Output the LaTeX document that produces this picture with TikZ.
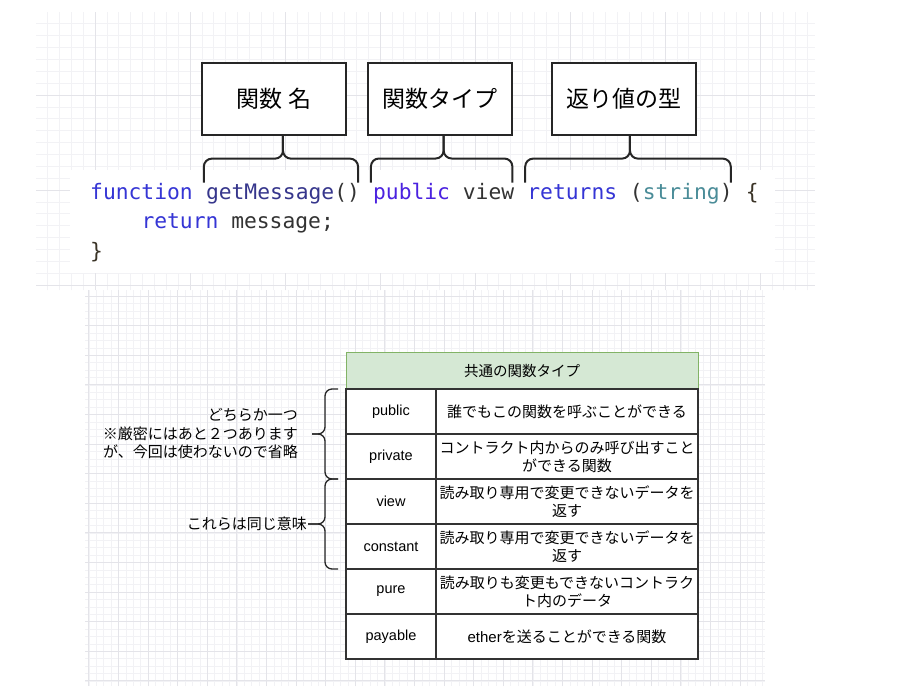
\documentclass[tikz,border=0pt]{standalone}
\usepackage{fontspec}
\setmainfont{Liberation Sans}
\newfontfamily\jp{Noto Sans CJK JP}
\newfontfamily\lat{Liberation Sans}
\newfontfamily\codefont{DejaVu Sans Mono}
\usetikzlibrary{positioning}

\definecolor{kwblue}{HTML}{3535D5}
\definecolor{fnindigo}{HTML}{36368C}
\definecolor{modpurple}{HTML}{4B22E0}
\definecolor{codegray}{HTML}{333333}
\definecolor{typeteal}{HTML}{4A8C98}
\definecolor{bracedark}{HTML}{3A3326}
\definecolor{hdrfill}{HTML}{D5E8D4}
\definecolor{hdrline}{HTML}{82B366}
\definecolor{cellline}{HTML}{333333}
\definecolor{gridminor}{HTML}{F2F2F5}
\definecolor{gridmajor}{HTML}{E4E4E9}

\begin{document}
\begin{tikzpicture} [
        x=1pt, y=-1pt,
        namebox/.style={rectangle, draw=black!85, line width=2pt, fill=white, minimum width=144pt, minimum height=72pt, font=\jp\fontsize{23}{28}\selectfont},
        code/.style={anchor=base west, inner sep=0pt, font=\codefont\fontsize{21.3}{26}\selectfont},
        brc/.style={draw=black!85, line width=2pt, rounded corners=8pt},
        sidebrc/.style={draw=black!85, line width=1.3pt, rounded corners=7pt},
        hdr/.style={rectangle, draw=hdrline, fill=hdrfill, line width=1pt, minimum width=352pt, minimum height=37pt, outer sep=0pt, font=\jp\fontsize{14.5}{17}\selectfont},
        keycell/.style={rectangle, draw=cellline, fill=white, line width=1.2pt, minimum width=90pt, minimum height=45pt, outer sep=0pt, font=\lat\fontsize{14.5}{17}\selectfont},
        valcell/.style={rectangle, draw=cellline, fill=white, line width=1.2pt, minimum width=262pt, minimum height=45pt, outer sep=0pt, align=center, font=\jp\fontsize{15}{18}\selectfont},
        note/.style={align=right, inner ysep=0pt, font=\jp\fontsize{15}{18.5}\selectfont}
    ]
        % Background and grids
        \fill[white] (0,0) rectangle (901,686);
        \useasboundingbox (0,0) rectangle (901,686);
        \draw[gridminor, line width=0.6pt, step=11.875pt] (36,12) grid (815,290);
        \draw[gridmajor, line width=0.8pt, step=95pt] (36,12) grid (815,290);
        \draw[gridminor, line width=0.6pt, step=7.4pt] (85,290) grid (765,686);
        \draw[gridmajor, line width=0.8pt, step=29.6pt] (85,290) grid (765,686);
        \fill[white] (70,170) rectangle (775,273);

        % Label boxes
        \node[namebox] (b1) at (274,99) {関数 名};
        \node[namebox, right=20pt of b1] (b2) {関数タイプ};
        \node[namebox, right=38pt of b2] (b3) {返り値の型};

        % Code
        \node[code] (kwfn) at (90,199) {\textcolor{kwblue}{function}};
        \node[code] (fname) at ([xshift=12.82pt]kwfn.base east) {\textcolor{fnindigo}{getMessage}\textcolor{codegray}{()}};
        \node[code] (ftype) at ([xshift=12.82pt]fname.base east) {\textcolor{modpurple}{public} \textcolor{codegray}{view}};
        \node[code] (fret) at ([xshift=12.82pt]ftype.base east) {\textcolor{kwblue}{returns} \textcolor{codegray}{(}\textcolor{typeteal}{string}\textcolor{codegray}{)}};
        \node[code] (fopen) at ([xshift=12.82pt]fret.base east) {\textcolor{bracedark}{\{}};
        \node[code] (retline) at ([xshift=51.3pt, yshift=-29.5pt]kwfn.base west) {\textcolor{kwblue}{return} \textcolor{codegray}{message;}};
        \node[code] (fclose) at ([yshift=-59pt]kwfn.base west) {\textcolor{bracedark}{\}}};

        % Braces
        \draw[brc] ([xshift=-2pt]fname.north west) |- ([yshift=24pt]fname.north) -- (fname.north |- b1.south);
        \draw[brc] ([xshift=-2pt]fname.north east) |- ([yshift=24pt]fname.north) -- (fname.north |- b1.south);
        \draw[brc] ([xshift=-2pt]ftype.north west) |- ([yshift=24pt]ftype.north) -- (ftype.north |- b2.south);
        \draw[brc] ([xshift=-2pt]ftype.north east) |- ([yshift=24pt]ftype.north) -- (ftype.north |- b2.south);
        \draw[brc] ([xshift=-2pt]fret.north west) |- ([yshift=24pt]fret.north) -- (fret.north |- b3.south);
        \draw[brc] ([xshift=-2pt]fret.north east) |- ([yshift=24pt]fret.north) -- (fret.north |- b3.south);

        % Table
        \node[hdr] (hdr) at (522,370.5) {共通の関数タイプ};
        \node[keycell, below right=0pt of hdr.south west] (k1) {public};
        \node[valcell, right=0pt of k1] (v1) {誰でもこの関数を呼ぶことができる};
        \node[keycell, below=0pt of k1] (k2) {private};
        \node[valcell, right=0pt of k2] (v2) {コントラクト内からのみ呼び出すこと\\ができる関数};
        \node[keycell, below=0pt of k2] (k3) {view};
        \node[valcell, right=0pt of k3] (v3) {読み取り専用で変更できないデータを\\返す};
        \node[keycell, below=0pt of k3] (k4) {constant};
        \node[valcell, right=0pt of k4] (v4) {読み取り専用で変更できないデータを\\返す};
        \node[keycell, below=0pt of k4] (k5) {pure};
        \node[valcell, right=0pt of k5] (v5) {読み取りも変更もできないコントラク\\ト内のデータ};
        \node[keycell, below=0pt of k5] (k6) {payable};
        \node[valcell, right=0pt of k6] (v6) {{\lat ether}を送ることができる関数};

        % Notes
        \node[note, inner xsep=14pt, left=34pt of k1.south west] (note1) {どちらか一つ\\※厳密にはあと２つあります\\が、今回は使わないので省略};
        \node[note, inner xsep=1pt, left=38pt of k3.south west] (note2) {これらは同じ意味};

        \draw[sidebrc] ([xshift=-8pt]k1.north west) -| ([xshift=-21pt]k1.south west) -- (note1.east);
        \draw[sidebrc] ([xshift=-8pt]k2.south west) -| ([xshift=-21pt]k1.south west) -- (note1.east);
        \draw[sidebrc] ([xshift=-8pt]k3.north west) -| ([xshift=-21pt]k3.south west) -- (note2.east);
        \draw[sidebrc] ([xshift=-8pt]k4.south west) -| ([xshift=-21pt]k3.south west) -- (note2.east);
    \end{tikzpicture}
\end{document}
